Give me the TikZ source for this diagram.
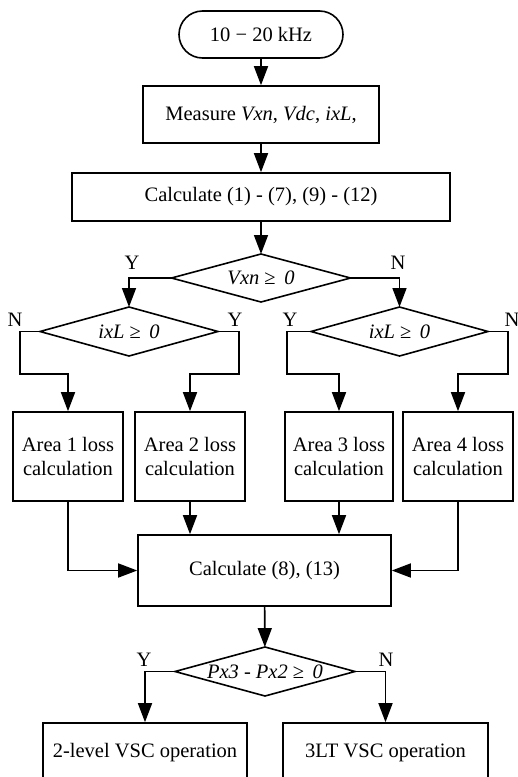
\documentclass[tikz,border=0pt]{standalone}
\usepackage{fontspec}
\setmainfont{Liberation Serif}
\usetikzlibrary{shapes.geometric,arrows.meta}
\begin{document}
\begin{tikzpicture}[x=1pt,y=-1pt,
  every node/.style={font=\fontsize{20.5}{24}\selectfont, inner sep=0pt},
  box/.style={draw, line width=1.6pt, rectangle, align=center},
  dec/.style={draw, line width=1.6pt, diamond, inner sep=0pt, outer sep=0pt},
  lbl/.style={font=\fontsize{20.5}{24}\selectfont},
  arr/.style={line width=1.6pt, -{Triangle[width=14pt,length=19pt]}},
  ln/.style={line width=1.6pt}]
\clip (0,0) rectangle (518,777);
\fill[white] (0,0) rectangle (518,777);
\node[box, rounded corners=23.5pt, minimum width=164pt, minimum height=47pt] (term) at (261,34.5) {10 − 20 kHz};
\node[box, minimum width=236pt, minimum height=57pt] (meas) at (261,114.5) {Measure \textit{Vxn}, \textit{Vdc}, \textit{ixL},};
\node[box, minimum width=378pt, minimum height=48pt] (calc1) at (261,197) {Calculate (1) - (7), (9) - (12)};
\node[dec, minimum width=179pt, minimum height=48pt, label={center:\textit{Vxn} ≥\, \textit{0}}] (d1) at (261,278) {};
\node[dec, minimum width=178pt, minimum height=49pt, label={center:\textit{ixL} ≥\, \textit{0}}] (d2) at (129,331.5) {};
\node[dec, minimum width=177pt, minimum height=49pt, label={center:\textit{ixL} ≥\, \textit{0}}] (d3) at (399.5,331.5) {};
\node[box, minimum width=110pt, minimum height=89pt] (a1) at (68,456.5) {Area 1 loss\\calculation};
\node[box, minimum width=110pt, minimum height=89pt] (a2) at (190,456.5) {Area 2 loss\\calculation};
\node[box, minimum width=108pt, minimum height=89pt] (a3) at (339,456.5) {Area 3 loss\\calculation};
\node[box, minimum width=110pt, minimum height=89pt] (a4) at (458,456.5) {Area 4 loss\\calculation};
\node[box, minimum width=253pt, minimum height=71pt] (calc2) at (264.5,570.5) {Calculate (8), (13)};
\node[dec, minimum width=180pt, minimum height=49pt, label={center:\textit{Px3} - \textit{Px2} ≥\, \textit{0}}] (d4) at (265,671.5) {};
\node[box, minimum width=204pt, minimum height=60pt] (o1) at (145,753) {2-level VSC operation};
\node[box, minimum width=205pt, minimum height=60pt] (o2) at (385.5,753) {3LT VSC operation};
% connectors
\draw[arr] (term) -- (meas);
\draw[arr] (meas) -- (calc1);
\draw[arr] (calc1) -- (d1);
\draw[arr] (d1.west) -| (d2.north);
\draw[arr] (d1.east) -| (d3.north);
\coordinate (l1) at (20,374);
\coordinate (l2) at (239,374);
\coordinate (l3) at (287,374);
\coordinate (l4) at (508,374);
\draw[arr] (d2.west) -| (l1) -| (a1.north);
\draw[arr] (d2.east) -| (l2) -| (a2.north);
\draw[arr] (d3.west) -| (l3) -| (a3.north);
\draw[arr] (d3.east) -| (l4) -| (a4.north);
\draw[arr] (a1.south) |- (calc2.west);
\draw[arr] (a2.south) -- (a2.south |- calc2.north);
\draw[arr] (a3.south) -- (a3.south |- calc2.north);
\draw[arr] (a4.south) |- (calc2.east);
\draw[arr] (calc2) -- (d4);
\draw[arr] (d4.west) -| (o1.north);
\draw[arr] (d4.east) -| (o2.north);
% labels
\node[lbl] (y1) at (132,263) {Y};
\node[lbl] (n1) at (398,263) {N};
\node[lbl] (n2) at (15,320) {N};
\node[lbl] (y2) at (235,320) {Y};
\node[lbl] (y3) at (290,320) {Y};
\node[lbl] (n3) at (512,320) {N};
\node[lbl] (y4) at (144,660) {Y};
\node[lbl] (n4) at (386,660) {N};
\end{tikzpicture}
\end{document}
